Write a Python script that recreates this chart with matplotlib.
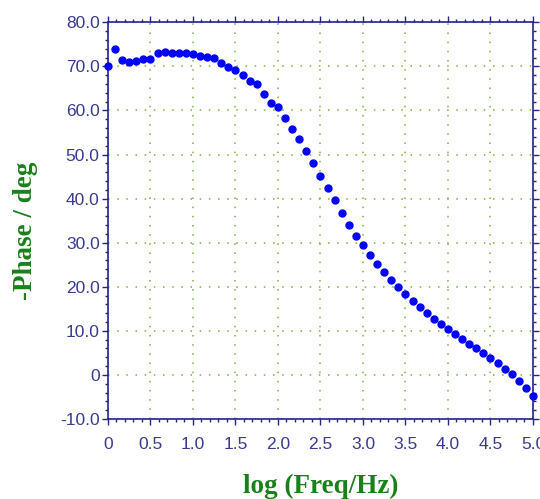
# Phase plot, -phase vs log frequency
import numpy as np
import matplotlib
matplotlib.use("Agg")
import matplotlib.pyplot as plt

# data
logf=[i0/12 for i0 in range(61)]
phase=[70.0,73.9,71.4,70.9,71.3,71.6,71.6,73.0,73.3,73.0,
       73.0,73.0,72.8,72.4,72.1,71.8,70.7,69.9,69.1,68.0,
       66.6,65.9,63.7,61.7,60.7,58.2,55.8,53.6,50.8,48.1,
       45.2,42.4,39.6,36.8,34.0,31.5,29.4,27.25,25.2,23.25,
       21.5,19.85,18.3,16.75,15.3,14.0,12.7,11.5,10.4,9.3,
       8.2,7.1,6.0,5.0,3.9,2.8,1.4,0.1,-1.3,-3.0,-4.7]

xt=[0,0.5,1.0,1.5,2.0,2.5,3.0,3.5,4.0,4.5,5.0]
xtl=["0","0.5","1.0","1.5","2.0","2.5","3.0","3.5","4.0","4.5","5.0"]
yt=[-10,0,10,20,30,40,50,60,70,80]
ytl=["-10.0","0","10.0","20.0","30.0","40.0","50.0","60.0","70.0","80.0"]

# plotstyle
tcol="#3a3a90"
scol="#23238f"
gcol="#80b040"
lcol="#1a801a"

f0=plt.figure(figsize=(5.4,4.99),dpi=100)
ax0=f0.add_axes([0.2,0.1603,0.787,0.7950])

ax0.plot(logf,phase,'o',color="#0000ff",ms=5,mec="#0000ff",clip_on=False,zorder=5)

ax0.set_xlim([0,5])
ax0.set_ylim([-10,80])

ax0.set_xticks(xt)
ax0.set_xticklabels(xtl)
ax0.set_yticks(yt)
ax0.set_yticklabels(ytl)
ax0.set_xticks(np.arange(0,5.01,0.1),minor=True)
ax0.set_yticks(np.arange(-10,80.1,2),minor=True)

ax0.tick_params(which='both',direction='out',color=scol,width=1,
                top=True,right=True,labelcolor=tcol,labelsize=12.5)
ax0.tick_params(which='major',length=4)
ax0.tick_params(which='minor',length=2)
ax0.tick_params(axis='x',which='major',pad=9)
ax0.tick_params(axis='y',which='major',pad=2)
for lab in ax0.get_xticklabels()+ax0.get_yticklabels():
    lab.set_family("Liberation Sans")

for s in ax0.spines.values():
    s.set_color(scol)
    s.set_linewidth(1.2)

ax0.grid(True,which='major',color=gcol,linestyle=(0,(1,5)),lw=1.1)

ax0.set_xlabel("log (Freq/Hz)",family="Liberation Serif",fontweight='bold',
               fontsize=19.5,color=lcol,labelpad=16)
ax0.set_ylabel("-Phase / deg",family="Liberation Serif",fontweight='bold',
               fontsize=19.5,color=lcol)
ax0.yaxis.set_label_coords(-0.165,0.475)

f0.savefig("out.png",dpi=100)
